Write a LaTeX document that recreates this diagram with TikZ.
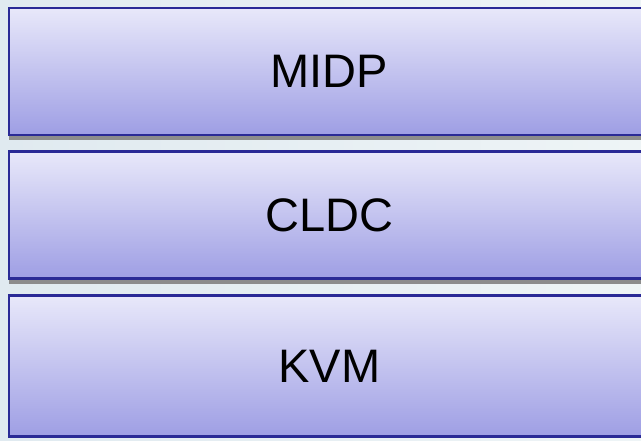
\documentclass[tikz,border=0pt]{standalone}
\usepackage{fontspec}
\setmainfont{Liberation Sans}
\usetikzlibrary{positioning}
\definecolor{bgleft}{RGB}{224,234,240}
\definecolor{bgright}{RGB}{238,244,246}
\definecolor{layertop}{RGB}{232,232,250}
\definecolor{layerbottom}{RGB}{158,158,228}
\definecolor{layerline}{RGB}{42,42,150}
\definecolor{shadowgray}{RGB}{140,140,140}
\begin{document}
\begin{tikzpicture}[
  x=1pt, y=-1pt,
  node distance=14pt,
  layer/.style={rectangle, draw=layerline, line width=2.8pt, inner sep=0pt,
    minimum width=641pt, minimum height=127pt,
    top color=layertop, bottom color=layerbottom,
    font=\fontsize{47}{56}\selectfont},
  shadowstrip/.style={fill=shadowgray}
]
\fill[left color=bgleft, right color=bgright] (0,0) rectangle (641,440);
\useasboundingbox (0,0) rectangle (641,440);
\node[layer, anchor=north west] (midp) at (7.6,6.6) {MIDP};
\node[layer, below=of midp] (cldc) {CLDC};
\node[layer, below=of cldc, minimum height=141pt] (kvm) {KVM};
% shadows under the layers
\fill[shadowstrip] ([xshift=1pt]midp.south west) rectangle ([yshift=-4pt]midp.south east);
\fill[shadowstrip] ([xshift=1pt]cldc.south west) rectangle ([yshift=-4pt]cldc.south east);
\end{tikzpicture}
\end{document}
